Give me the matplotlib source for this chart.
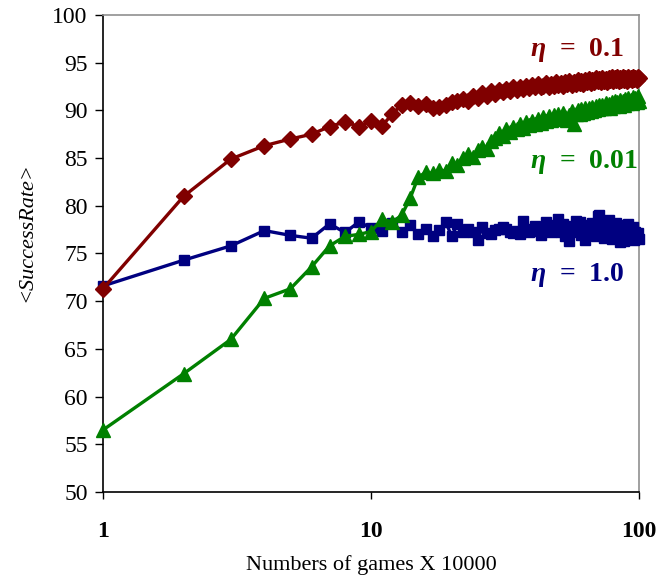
import numpy as np
import matplotlib.pyplot as plt
from matplotlib.ticker import FixedLocator, FixedFormatter, NullLocator

plt.rcParams['font.family'] = ['Liberation Serif', 'DejaVu Serif']
plt.rcParams['mathtext.fontset'] = 'custom'
plt.rcParams['mathtext.it'] = 'Liberation Serif:italic:bold'
plt.rcParams['mathtext.rm'] = 'Liberation Serif:bold'

# games played, in units of 10000
games = np.arange(1, 101)

# average success rate for each learning rate
rate_01 = [
    71.3, 81.0, 84.9, 86.3, 87.0, 87.5, 88.3, 88.8, 88.3, 88.9,
    88.4, 89.6, 90.6, 90.8, 90.5, 90.7, 90.2, 90.4, 90.6, 90.9,
    91.0, 91.2, 91.0, 91.5, 91.3, 91.8, 91.5, 92.0, 91.7, 92.1,
    91.9, 92.2, 92.0, 92.4, 92.1, 92.5, 92.2, 92.6, 92.3, 92.7,
    92.4, 92.8, 92.5, 92.6, 92.9, 92.5, 92.8, 92.6, 93.0, 92.7,
    92.9, 92.6, 93.0, 92.8, 93.1, 92.7, 93.0, 92.8, 93.2, 92.9,
    93.1, 92.8, 93.2, 93.0, 93.3, 92.9, 93.2, 93.0, 93.4, 93.1,
    93.3, 93.0, 93.4, 93.1, 93.3, 93.0, 93.4, 93.2, 93.5, 93.1,
    93.4, 93.2, 93.5, 93.1, 93.4, 93.2, 93.5, 93.2, 93.4, 93.1,
    93.5, 93.3, 93.4, 93.2, 93.5, 93.3, 93.4, 93.2, 93.5, 93.4,
]

rate_001 = [
    56.5, 62.4, 66.0, 70.3, 71.3, 73.6, 75.8, 76.8, 77.0, 77.3,
    78.6, 78.3, 79.0, 80.8, 83.0, 83.5, 83.4, 83.8, 83.6, 84.5,
    84.3, 85.0, 85.4, 85.1, 85.9, 86.2, 86.0, 86.8, 87.1, 87.6,
    87.3, 88.0, 87.7, 88.3, 88.1, 88.6, 88.2, 88.8, 88.5, 88.9,
    88.6, 89.1, 88.7, 89.3, 88.9, 89.4, 89.0, 89.5, 89.1, 89.6,
    89.2, 89.7, 89.3, 89.0, 89.5, 89.9, 88.6, 89.6, 90.0, 89.6,
    90.1, 89.7, 90.2, 89.8, 90.3, 89.9, 90.4, 90.0, 90.5, 90.1,
    90.6, 90.2, 90.6, 90.3, 90.8, 90.4, 90.7, 90.3, 90.9, 90.5,
    91.0, 90.6, 90.9, 90.5, 91.1, 90.7, 91.0, 90.6, 91.2, 90.8,
    91.3, 90.9, 91.1, 90.8, 91.4, 91.0, 91.3, 90.9, 91.5, 91.0,
]

rate_10 = [
    71.6, 74.3, 75.8, 77.4, 76.9, 76.6, 78.1, 77.2, 78.3, 77.7,
    77.4, 78.2, 77.2, 78.0, 77.0, 77.6, 76.8, 77.5, 78.3, 76.8,
    78.1, 77.2, 77.6, 77.3, 76.4, 77.8, 77.1, 77.0, 77.5, 77.6,
    77.8, 77.6, 77.3, 77.1, 77.4, 77.0, 78.4, 77.5, 77.2, 77.6,
    77.9, 77.4, 76.9, 77.5, 78.3, 77.7, 77.2, 78.0, 77.6, 78.6,
    77.3, 78.1, 76.8, 77.6, 76.3, 77.9, 77.2, 78.4, 77.5, 78.3,
    76.9, 77.7, 76.4, 78.0, 77.4, 77.0, 78.2, 77.6, 76.8, 78.9,
    79.0, 78.3, 77.1, 76.6, 77.8, 77.3, 78.5, 77.0, 76.5, 77.9,
    77.2, 78.2, 76.8, 77.6, 76.2, 77.4, 78.0, 76.3, 77.7, 77.0,
    78.1, 76.7, 77.5, 76.9, 77.8, 76.4, 77.3, 76.6, 77.1, 76.5,
]

fig = plt.figure(figsize=(6.59, 5.79), dpi=100)
ax = fig.add_axes([0.1563, 0.1503, 0.8134, 0.8238])

ax.plot(games, rate_10, color='#000080', marker='s', markersize=7,
        linewidth=2.4, clip_on=False, zorder=3)
ax.plot(games, rate_001, color='#008000', marker='^', markersize=10,
        linewidth=2.4, clip_on=False, zorder=4)
ax.plot(games, rate_01, color='#800000', marker='D', markersize=8.5,
        linewidth=2.4, clip_on=False, zorder=5)

ax.set_xscale('log')
ax.set_xlim(1, 100)
ax.set_ylim(50, 100)

ax.xaxis.set_major_locator(FixedLocator([1, 10, 100]))
ax.xaxis.set_major_formatter(FixedFormatter(['1', '10', '100']))
ax.xaxis.set_minor_locator(NullLocator())
ax.set_yticks(np.arange(50, 101, 5))

ax.tick_params(axis='y', direction='out', length=6, width=1, labelsize=17, pad=5)
ax.tick_params(axis='x', direction='out', length=5, width=1, labelsize=17, pad=16)
for lbl in ax.get_xticklabels():
    lbl.set_fontweight('bold')

for side in ('left', 'bottom'):
    ax.spines[side].set_color('black')
    ax.spines[side].set_linewidth(1.2)
for side in ('top', 'right'):
    ax.spines[side].set_color('#909090')
    ax.spines[side].set_linewidth(1.2)

ax.set_xlabel('Numbers of games X 10000', fontsize=16, labelpad=9)
ax.set_ylabel('<SuccessRate>', fontsize=16, style='italic')
ax.yaxis.set_label_coords(-0.125, 0.545)

ax.text(0.797, 0.927, r'$\eta$  =  0.1', transform=ax.transAxes, color='#800000',
        fontsize=20, fontweight='bold', va='center', ha='left')
ax.text(0.797, 0.692, r'$\eta$  =  0.01', transform=ax.transAxes, color='#008000',
        fontsize=20, fontweight='bold', va='center', ha='left')
ax.text(0.797, 0.455, r'$\eta$  =  1.0', transform=ax.transAxes, color='#000080',
        fontsize=20, fontweight='bold', va='center', ha='left')

fig.savefig('out.png', dpi=100)
